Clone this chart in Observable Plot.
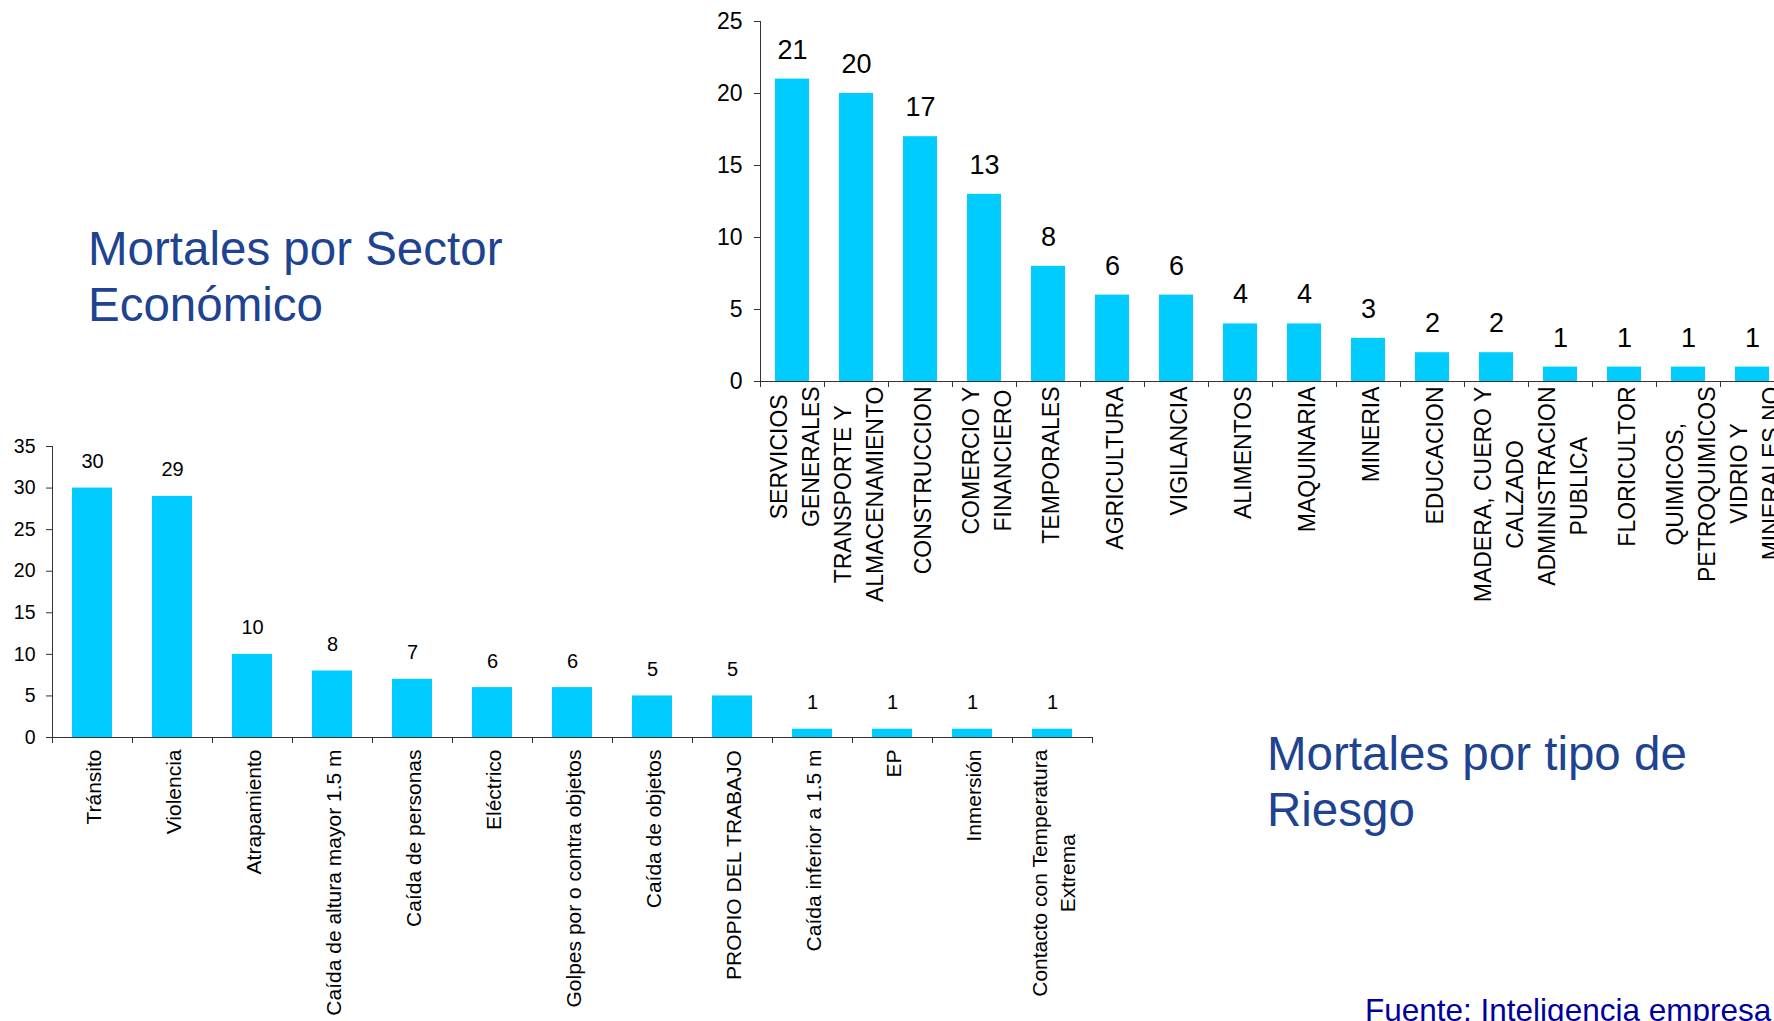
<!DOCTYPE html>
<html>
<head>
<meta charset="utf-8">
<script src="https://cdn.jsdelivr.net/npm/d3@7"></script>
<script src="https://cdn.jsdelivr.net/npm/@observablehq/plot@0.6"></script>
<style>
  html, body { margin: 0; padding: 0; width: 1774px; height: 1021px; overflow: hidden; background: #ffffff; }
  body { position: relative; font-family: "Liberation Sans", Arial, sans-serif; }
  .abs { position: absolute; }
  .title { color: #1e4391; font-size: 47.5px; line-height: 56px; white-space: nowrap; }
  .fuente { color: #00009c; font-size: 31.5px; line-height: 31.5px; white-space: nowrap; }
</style>
</head>
<body>
<div class="abs title" style="left:88px; top:221px;">Mortales por Sector<br>Económico</div>
<div id="sector" class="abs" style="left:680px; top:0px; width:1104px;"></div>
<div id="riesgo" class="abs" style="left:0px; top:420px; width:1102px;"></div>
<div class="abs title" style="left:1267px; top:726px;">Mortales por tipo de<br>Riesgo</div>
<div class="abs fuente" style="left:1365px; top:995px;">Fuente: Inteligencia empresa</div>
<script>
// ---- Data: Mortales por Sector Económico ----
const sectores = [
  "SERVICIOS\nGENERALES",
  "TRANSPORTE Y\nALMACENAMIENTO",
  "CONSTRUCCION",
  "COMERCIO Y\nFINANCIERO",
  "TEMPORALES",
  "AGRICULTURA",
  "VIGILANCIA",
  "ALIMENTOS",
  "MAQUINARIA",
  "MINERIA",
  "EDUCACION",
  "MADERA, CUERO Y\nCALZADO",
  "ADMINISTRACION\nPUBLICA",
  "FLORICULTOR",
  "QUIMICOS,\nPETROQUIMICOS",
  "VIDRIO Y\nMINERALES NO"
];
const sectorValores = [21, 20, 17, 13, 8, 6, 6, 4, 4, 3, 2, 2, 1, 1, 1, 1];
const sectorTicks = [0, 5, 10, 15, 20, 25];

// ---- Data: Mortales por tipo de Riesgo ----
const riesgos = [
  "Tránsito",
  "Violencia",
  "Atrapamiento",
  "Caída de altura mayor 1.5 m",
  "Caída de personas",
  "Eléctrico",
  "Golpes por o contra objetos",
  "Caída de objetos",
  "PROPIO DEL TRABAJO",
  "Caída inferior a 1.5 m",
  "EP",
  "Inmersión",
  "Contacto con Temperatura\nExtrema"
];
const riesgoValores = [30, 29, 10, 8, 7, 6, 6, 5, 5, 1, 1, 1, 1];
const riesgoTicks = [0, 5, 10, 15, 20, 25, 30, 35];

const FONT = '"Liberation Sans", Arial, sans-serif';
const ctx = document.createElement("canvas").getContext("2d");
function textWidth(text, size) {
  ctx.font = `${size}px "Liberation Sans", Arial, sans-serif`;
  return Math.max(...text.split("\n").map(l => ctx.measureText(l).width));
}

function barChart(o) {
  const data = o.cats.map((c, i) => ({cat: c, val: o.vals[i]}));
  const step = (o.width - o.mL - o.mR) / o.cats.length;
  const labelMarks = data.map(d => Plot.text([d], {
    x: "cat", text: "cat", frameAnchor: "bottom", rotate: -90,
    textAnchor: "middle", lineAnchor: "middle", lineHeight: o.labelLH,
    fontSize: o.labelFont, fill: "#000",
    dy: o.labelGap + textWidth(d.cat, o.labelFont) / 2
  }));
  return Plot.plot({
    width: o.width, height: o.height,
    marginLeft: o.mL, marginRight: o.mR, marginTop: o.mT, marginBottom: o.mB,
    style: {background: "transparent", maxWidth: "none", overflow: "visible", fontFamily: FONT, color: "#000"},
    x: {domain: o.cats, paddingInner: o.padding, paddingOuter: o.padding / 2, axis: null, label: null},
    y: {domain: [0, o.yMax], axis: null, label: null},
    marks: [
      Plot.barY(data, {x: "cat", y: "val", fill: "#00ccff"}),
      Plot.ruleY([0], {stroke: "#333"}),
      Plot.ruleX([o.cats[0]], {dx: -step / 2, stroke: "#333"}),
      Plot.axisX({ticks: o.cats, tickSize: 6, text: null, label: null, dx: -step / 2, stroke: "#333"}),
      Plot.axisX({ticks: [o.cats[o.cats.length - 1]], tickSize: 6, text: null, label: null, dx: step / 2, stroke: "#333"}),
      Plot.axisY({ticks: o.ticks, tickSize: 6, tickPadding: o.tickPad, fontSize: o.tickFont, label: null, stroke: "#333", fill: "#000"}),
      Plot.text(data, {x: "cat", y: "val", text: d => String(d.val), lineAnchor: "bottom", dy: o.valDy, fontSize: o.valFont, fill: "#000"}),
      ...labelMarks
    ]
  });
}

document.getElementById("sector").append(barChart({
  cats: sectores, vals: sectorValores, ticks: sectorTicks, yMax: 25,
  width: 1104, height: 621, mL: 80, mR: 0, mT: 21, mB: 240,
  padding: 0.47, tickFont: 23, tickPad: 12, valFont: 27, valDy: -20.5,
  labelFont: 23, labelLH: 1.39, labelGap: 5
}));

document.getElementById("riesgo").append(barChart({
  cats: riesgos, vals: riesgoValores, ticks: riesgoTicks, yMax: 35,
  width: 1102, height: 601, mL: 52, mR: 10, mT: 26, mB: 284,
  padding: 0.5, tickFont: 19.5, tickPad: 11, valFont: 20, valDy: -20,
  labelFont: 21, labelLH: 1.33, labelGap: 12
}));
</script>
</body>
</html>
